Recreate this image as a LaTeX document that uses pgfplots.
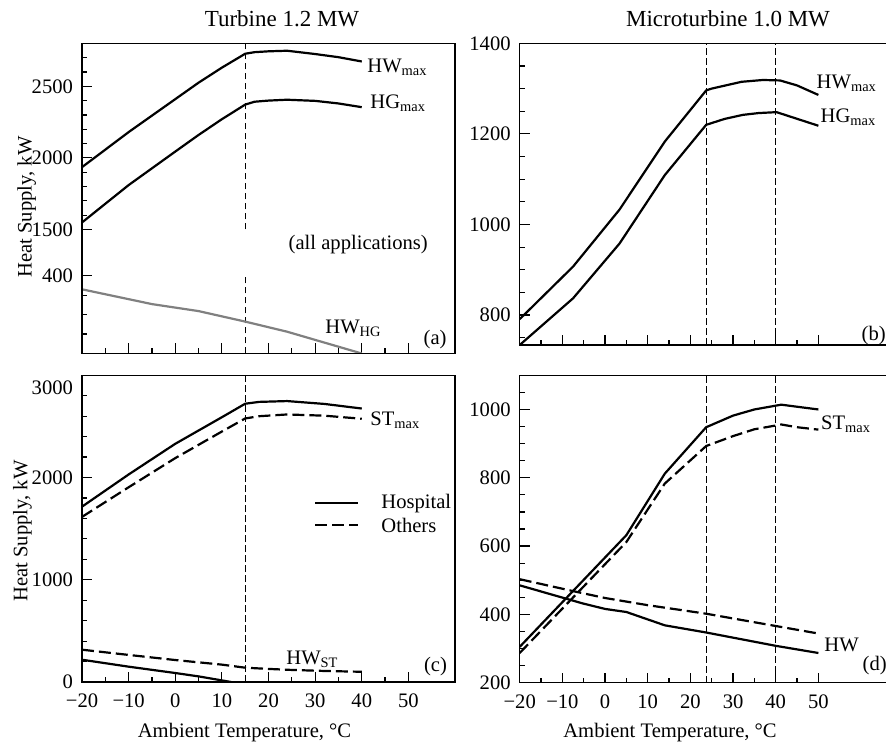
\documentclass[border=0pt]{standalone}
\usepackage{fontspec}
\setmainfont{Liberation Serif}
\usepackage{pgfplots}
\pgfplotsset{compat=1.18}

\newcommand\fs{\fontsize{10.3}{12}\selectfont}
\newcommand\ft{\fontsize{11.5}{13}\selectfont}

\tikzset{
  hosp/.style={black, line width=1.1pt},
  oth/.style={black, line width=1.1pt, dash pattern=on 6pt off 2.5pt},
  vline/.style={black, line width=0.5pt, dash pattern=on 3.3pt off 1.7pt},
}
\pgfplotsset{
  panel/.style={
    scale only axis, xmin=-20,
    tick pos=left, tick align=inside,
    major tick length=5pt, minor tick length=2.5pt,
    tick style={black, line width=0.6pt},
    axis line style={line width=0.65pt},
    tick label style={font=\fs},
    yticklabel style={xshift=-1pt},
    /pgf/number format/assume math mode=true,
    /pgf/number format/1000 sep={},
    xtick={-20,-10,...,50}, minor xtick={-15,-5,...,45},
    xticklabels={},
  },
}

\begin{document}
\begin{tikzpicture}

% (a) upper part
\begin{axis}[panel, at={({82*0.5pt},{(744-43.3)*0.5pt})}, anchor=north west,
  width=186.5pt, height=93.1pt, xmax=60, ymin=1500, ymax=2800,
  ytick={1500,2000,2500}, minor ytick={1600,1700,1800,1900,2100,2200,2300,2400,2600,2700},
  xtick=\empty, minor xtick={}, axis line style={draw=none}]
  \addplot[vline] coordinates {(15,1500) (15,2800)};
  \addplot[hosp] coordinates {(-20,1935) (-10,2180) (0,2410) (5,2525) (10,2630) (15,2727) (17,2738) (20,2744) (24,2748) (30,2725) (35,2703) (40,2673)};
  \addplot[hosp] coordinates {(-20,1549) (-10,1810) (0,2044) (5,2160) (10,2270) (15,2372) (17,2392) (20,2400) (24,2406) (30,2398) (35,2380) (40,2354)};
\end{axis}

% (a) lower part
\begin{axis}[panel, at={({82*0.5pt},{(744-353.5)*0.5pt})}, anchor=south west,
  width=186.5pt, height=38.9pt, xmax=60, ymin=200, ymax=400,
  ytick={400}, minor ytick={250,300,350}, axis line style={draw=none}]
  \addplot[vline] coordinates {(15,200) (15,400)};
  \addplot[black!50, line width=1.1pt] coordinates {(-20,365) (-5,327) (5,309) (15,282) (24,256) (32,228) (40,200)};
\end{axis}

% (b)
\begin{axis}[panel, at={({519.7*0.5pt},{(744-43.3)*0.5pt})}, anchor=north west,
  width=192pt, height=150.85pt, xmax=70, ymin=734, ymax=1400,
  ytick={800,1000,1200,1400}, minor ytick={750,850,900,950,1050,1100,1150,1250,1300,1350}]
  \addplot[vline] coordinates {(23.7,734) (23.7,1400)};
  \addplot[vline] coordinates {(40,734) (40,1400)};
  \addplot[hosp] coordinates {(-20,791) (-7.5,907) (3.4,1033) (14,1183) (23.7,1296) (25,1300) (32,1315) (37,1319) (41,1318) (45,1307) (50,1286)};
  \addplot[hosp] coordinates {(-20,734) (-7.5,837) (3.4,958) (14,1109) (23.7,1220) (28,1233) (32.3,1242) (36,1246) (40.2,1248) (50,1218)};
\end{axis}

% (c)
\begin{axis}[panel, at={({82*0.5pt},{(744-682)*0.5pt})}, anchor=south west,
  width=186.5pt, height=153.35pt, xmax=60, ymin=0, ymax=3000,
  ytick={0,1000,2000},
  minor ytick={200,400,600,800,1200,1400,1600,1800,2200,2400,2600,2800},
  extra y ticks={3000}, extra y tick style={major tick length=0pt, tick label style={yshift=-6pt}},
  xticklabels={−20,−10,0,10,20,30,40,50}, xticklabel style={yshift=-2.5pt}]
  \addplot[vline] coordinates {(15,0) (15,3000)};
  \addplot[hosp] coordinates {(-20,1715) (-10,2030) (0,2330) (10,2590) (15,2722) (18,2740) (24,2748) (32,2720) (40,2675)};
  \addplot[oth] coordinates {(-20,1615) (-10,1905) (0,2190) (10,2450) (15,2578) (18,2600) (24,2617) (32,2605) (40,2575)};
  \addplot[hosp] coordinates {(-20,218) (-10,150) (0,88) (5,55) (12,0)};
  \addplot[oth] coordinates {(-20,316) (-10,265) (0,215) (10,170) (15,140) (20,128) (25,118) (32,108) (40,100)};
\end{axis}

% (d)
\begin{axis}[panel, at={({519.7*0.5pt},{(744-682.7)*0.5pt})}, anchor=south west,
  width=192pt, height=153.7pt, xmax=70, ymin=200, ymax=1100,
  ytick={200,400,600,800,1000},
  minor ytick={250,300,350,450,500,550,650,700,750,850,900,950,1050},
  xticklabels={−20,−10,0,10,20,30,40,50}, xticklabel style={yshift=-2.5pt}]
  \addplot[vline] coordinates {(23.7,200) (23.7,1100)};
  \addplot[vline] coordinates {(40,200) (40,1100)};
  \addplot[hosp] coordinates {(-20,305) (5,632) (14,812) (23.7,948) (30,982) (35,1000) (41.3,1014) (45,1008) (50,1000)};
  \addplot[oth] coordinates {(-20,287) (5,612) (14,783) (23.7,893) (30,922) (35,942) (40,953) (41.3,956) (45,948) (50,941)};
  \addplot[oth] coordinates {(-20,503) (-6.7,466) (0,448) (10,427) (23.7,402) (40,366) (50,344)};
  \addplot[hosp] coordinates {(-20,485) (-5.2,432) (0,416) (5,407) (14,368) (23.7,347) (40,308) (50,287)};
\end{axis}

\begin{scope}[x=0.5pt, y=0.5pt, every node/.style={inner sep=0pt, font=\fs}]
  % frame of the broken panel (a)
  \draw[line width=0.65pt] (82,{744-43.3}) rectangle (455,{744-353.5});
  % titles
  \node[anchor=base, font=\ft] at (282,{744-26.7}) {Turbine 1.2 MW};
  \node[anchor=base, font=\ft] at (728,{744-26.7}) {Microturbine 1.0 MW};
  % axis labels
  \node[anchor=base, rotate=90] at (31.5,{744-207}) {Heat Supply, kW};
  \node[anchor=base, rotate=90] at (27.3,{744-531}) {Heat Supply, kW};
  \node[anchor=base] at (244.5,{744-737}) {Ambient Temperature, °C};
  \node[anchor=base] at (670,{744-737}) {Ambient Temperature, °C};
  % curve labels
  \node[anchor=base west] at (367,{744-72.7}) {HW\textsubscript{max}};
  \node[anchor=base west] at (370,{744-108.3}) {HG\textsubscript{max}};
  \node[anchor=base west] at (288.3,{744-250}) {(all applications)};
  \node[anchor=base west] at (325,{744-333.3}) {HW\textsubscript{HG}};
  \node[anchor=base west] at (423.3,{744-345}) {(a)};
  \node[anchor=base west] at (816.3,{744-88.3}) {HW\textsubscript{max}};
  \node[anchor=base west] at (820.3,{744-122.7}) {HG\textsubscript{max}};
  \node[anchor=base west] at (861.3,{744-341}) {(b)};
  \node[anchor=base west] at (370,{744-425.3}) {ST\textsubscript{max}};
  \node[anchor=base west] at (286,{744-664}) {HW\textsubscript{ST}};
  \node[anchor=base west] at (423.7,{744-671.7}) {(c)};
  \node[anchor=base west] at (820.7,{744-429.3}) {ST\textsubscript{max}};
  \node[anchor=base west] at (824,{744-651.3}) {HW};
  \node[anchor=base west] at (862.3,{744-670.3}) {(d)};
  % legend
  \draw[hosp] (315,{744-502.7}) -- (358,{744-502.7});
  \draw[oth] (315,{744-525.3}) -- (358,{744-525.3});
  \node[anchor=base west] at (381,{744-508.7}) {Hospital};
  \node[anchor=base west] at (381,{744-532}) {Others};
\end{scope}

\pgfresetboundingbox
\useasboundingbox (0,0) rectangle (443pt,372pt);
\end{tikzpicture}
\end{document}
